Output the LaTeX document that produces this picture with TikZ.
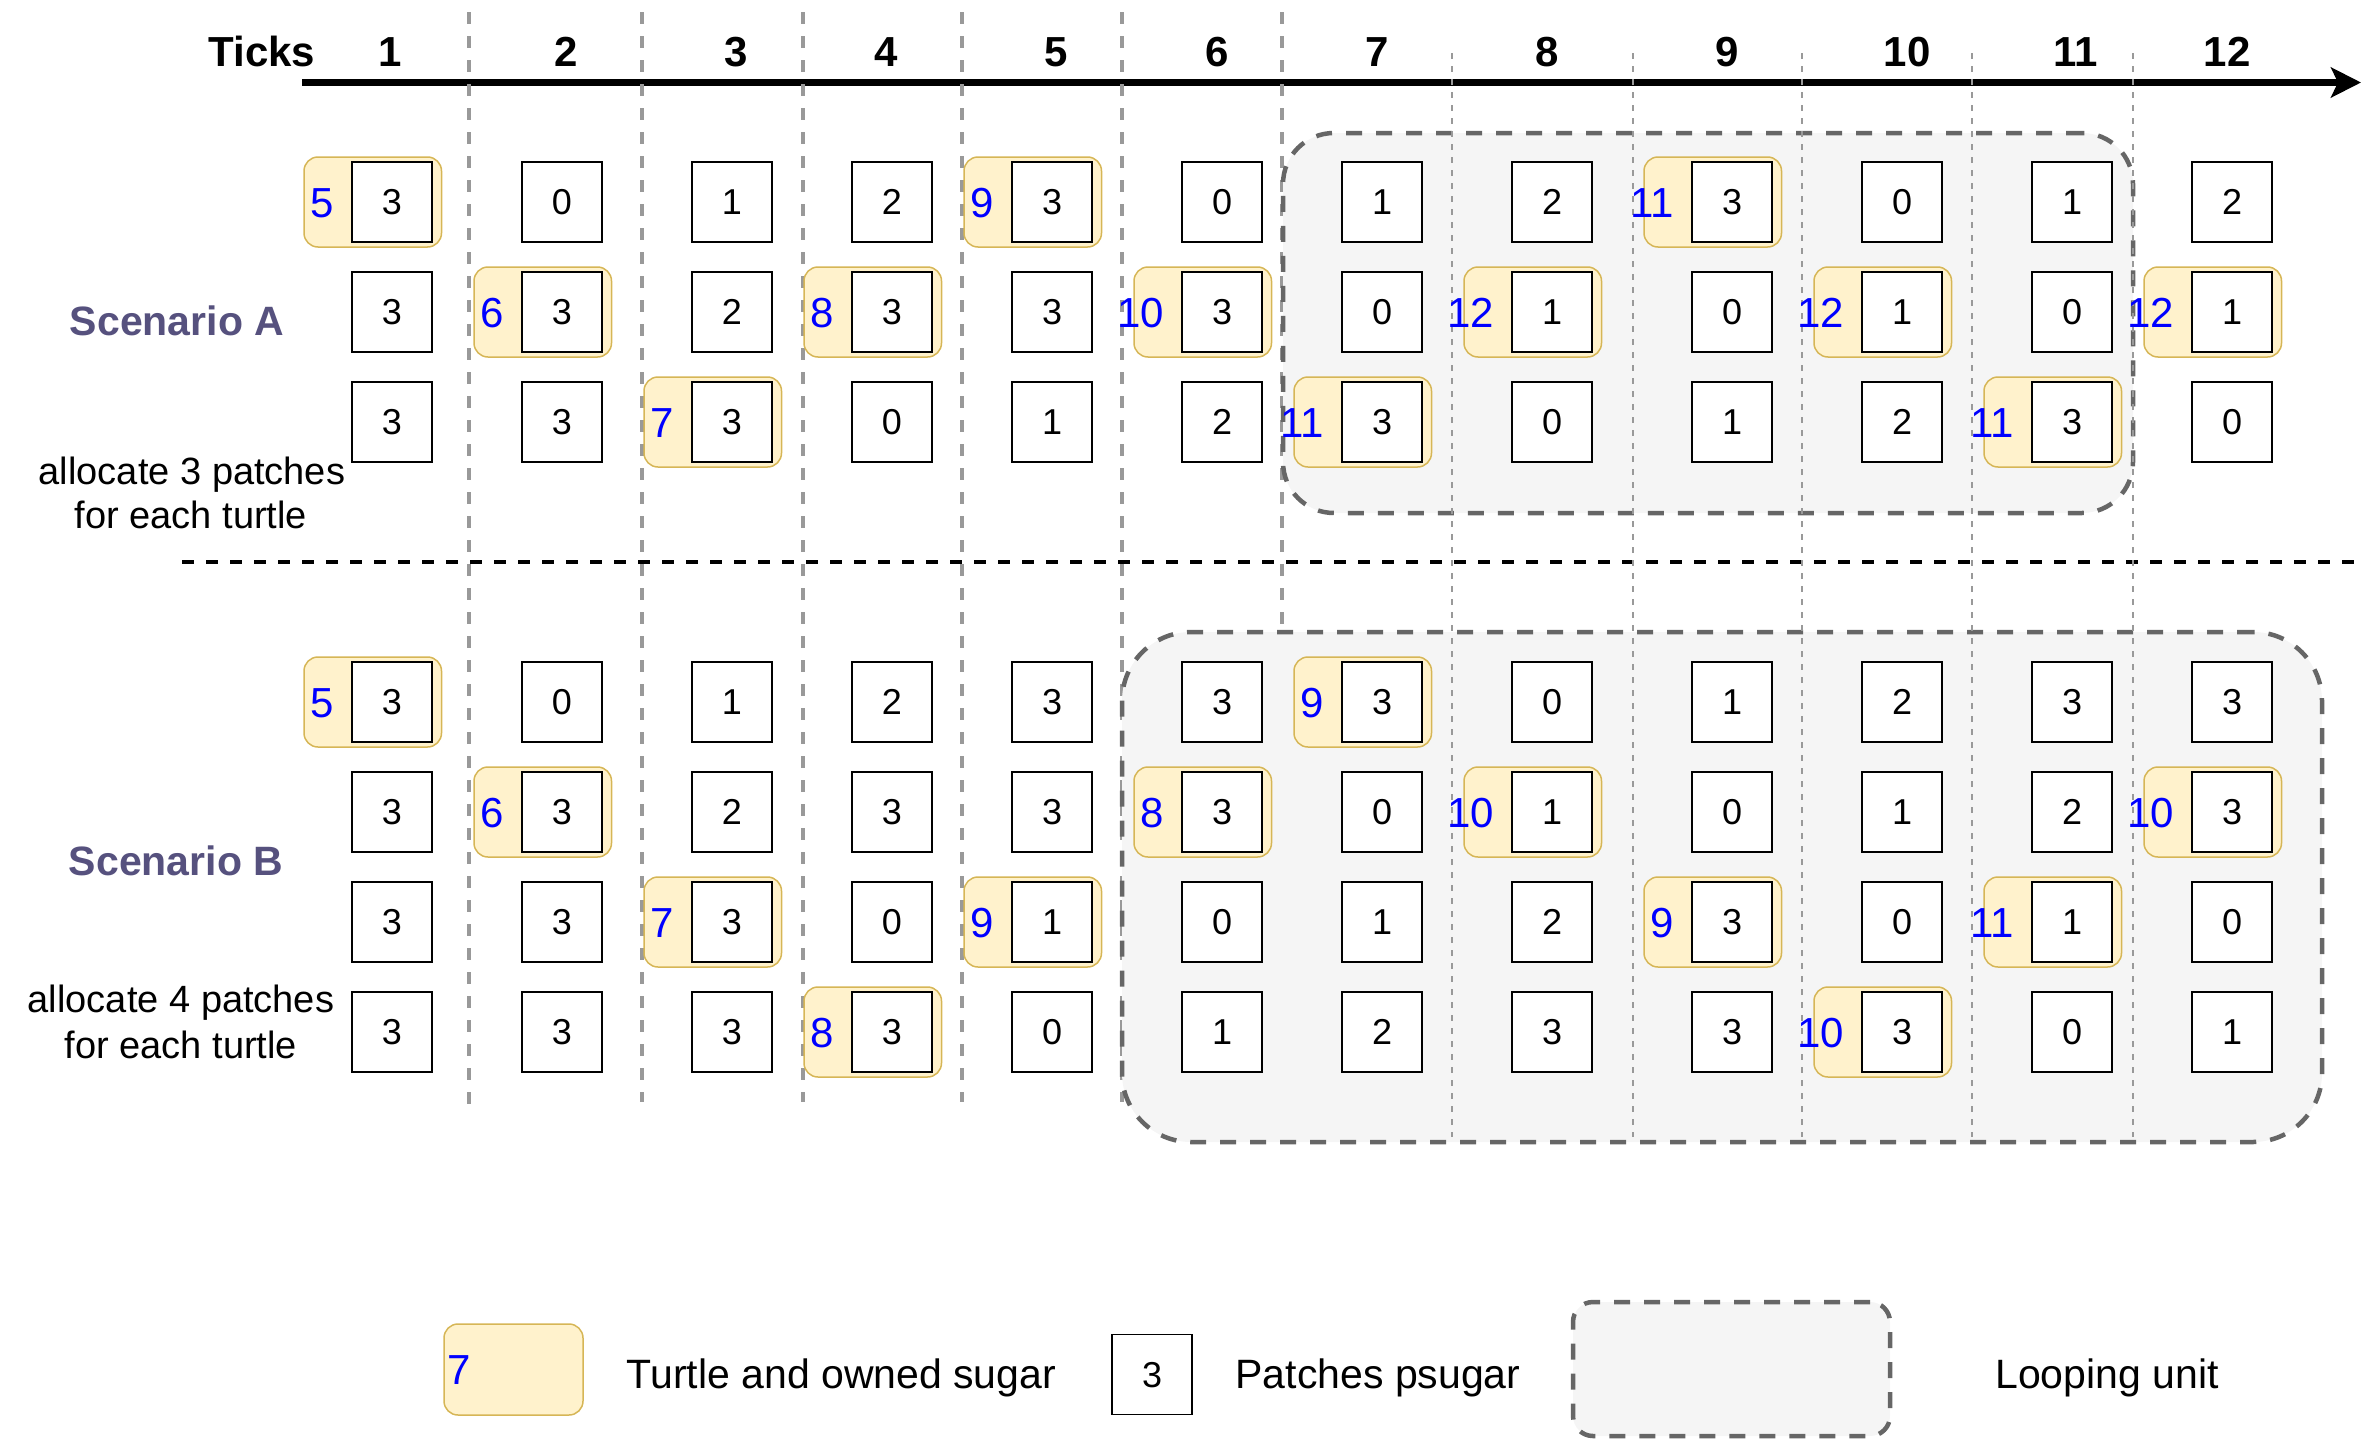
\documentclass[tikz,border=0pt]{standalone}
\usepackage{fontspec}
\setmainfont{Liberation Sans}
\usetikzlibrary{arrows.meta}
\definecolor{tfill}{HTML}{FFF2CC}
\definecolor{tdraw}{HTML}{D6B656}
\definecolor{lfill}{HTML}{F5F5F5}
\definecolor{ldraw}{HTML}{666666}
\definecolor{scen}{HTML}{56517E}
\definecolor{vline}{HTML}{999999}
\definecolor{tblue}{HTML}{0000FF}
\tikzset{
 patch/.style={draw=black, line width=1.5pt, fill=white, minimum width=80pt, minimum height=80pt, inner sep=0pt, font=\fontsize{36}{43}\selectfont, text height=25.8pt, text depth=0pt},
 turtlebox/.style={draw=tdraw, fill=tfill, line width=1.5pt, rounded corners=14pt, minimum width=137.5pt, minimum height=90pt, inner sep=0pt},
 tnum/.style={anchor=east, inner sep=0pt, text=tblue, font=\fontsize{42}{50}\selectfont, text height=30pt, text depth=0pt},
 loopbox/.style={draw=ldraw, fill=lfill, line width=4.5pt, dash pattern=on 16pt off 14pt, inner sep=0pt},
 ticklbl/.style={anchor=base, inner sep=0pt, font=\bfseries\fontsize{42}{50}\selectfont},
 scenlbl/.style={inner sep=0pt, text=scen, font=\bfseries\fontsize{41}{49}\selectfont, text height=29.4pt, text depth=0pt},
 alloc/.style={anchor=base, inner sep=0pt, font=\fontsize{38}{45}\selectfont},
 legtxt/.style={anchor=base, inner sep=0pt, font=\fontsize{41}{49}\selectfont},
 thickv/.style={draw=vline, line width=3.5pt, dash pattern=on 12pt off 12pt},
 thinv/.style={draw=vline, line width=1.5pt, dash pattern=on 6pt off 7pt},
 sepline/.style={draw=black, line width=4.5pt, dash pattern=on 12pt off 12pt},
 axisline/.style={draw=black, line width=7pt, -{Stealth[length=30pt,width=30pt,inset=7pt]}},
}
\def\colxs{{392,562,732,892,1052,1222,1382,1552,1732,1902,2072,2232}}
\newcommand\cellrow[4]{%
 \foreach \val/\tur [count=\ci] in {#4}{%
  \pgfmathsetmacro\xx{\colxs[\ci-1]}%
  \ifnum\tur>0 \node[turtlebox] (#1#2-\ci-t) at (\xx-19.25,#3) {};\fi
  \node[patch] (#1#2-\ci) at (\xx,#3) {\val};
  \ifnum\tur>0 \node[tnum] (#1#2-\ci-n) at ([xshift=-17pt]#1#2-\ci.west) {\tur};\fi
 }}
\begin{document}
\begin{tikzpicture}[x=1pt,y=-1pt]
\useasboundingbox (0,0) rectangle (2377,1440);
% time axis
\coordinate (axL) at (302,82.5);
\coordinate (axR) at (2361,82.5);
\draw[axisline] (axL) -- (axR);
% thick dashed tick separators
\foreach \x/\yb in {469/1112,642/1102,803/1102,962/1102,1122/1102,1282/1102}
  \draw[thickv] (\x,12) -- (\x,\yb);
% scenario separator
\coordinate (sepL) at (182,562);
\coordinate (sepR) at (2357,562);
\draw[sepline] (sepL) -- (sepR);
% looping units
\node[loopbox, rounded corners=51pt, minimum width=850pt, minimum height=380pt] (loopA) at (1708,323) {};
\node[loopbox, rounded corners=69pt, minimum width=1200pt, minimum height=510pt] (loopB) at (1722,887) {};
% thin dashed tick separators
\foreach \x in {1452,1633,1802,1972,2133}
  \draw[thinv] (\x,53) -- (\x,1137);
% tick labels
\node[ticklbl] (ticks) at (262,66) {Ticks};
\foreach \x [count=\i] in {390,566,736,886,1056,1217,1377,1547,1727,1907,2076,2227}
  \node[ticklbl] (tick\i) at (\x,66) {\i};
% scenario labels
\node[scenlbl] (scenA) at (177,321) {Scenario A};
\node[alloc] (allocA1) at (192,484) {allocate 3 patches};
\node[alloc] (allocA2) at (191,528) {for each turtle};
\node[scenlbl] (scenB) at (176,861) {Scenario B};
\node[alloc] (allocB1) at (181,1012) {allocate 4 patches};
\node[alloc] (allocB2) at (181,1058) {for each turtle};
% scenario A
\cellrow{A}{1}{202}{3/5,0/0,1/0,2/0,3/9,0/0,1/0,2/0,3/11,0/0,1/0,2/0}
\cellrow{A}{2}{312}{3/0,3/6,2/0,3/8,3/0,3/10,0/0,1/12,0/0,1/12,0/0,1/12}
\cellrow{A}{3}{422}{3/0,3/0,3/7,0/0,1/0,2/0,3/11,0/0,1/0,2/0,3/11,0/0}
% scenario B
\cellrow{B}{1}{702}{3/5,0/0,1/0,2/0,3/0,3/0,3/9,0/0,1/0,2/0,3/0,3/0}
\cellrow{B}{2}{812}{3/0,3/6,2/0,3/0,3/0,3/8,0/0,1/10,0/0,1/0,2/0,3/10}
\cellrow{B}{3}{922}{3/0,3/0,3/7,0/0,1/9,0/0,1/0,2/0,3/9,0/0,1/11,0/0}
\cellrow{B}{4}{1032}{3/0,3/0,3/0,3/8,0/0,1/0,2/0,3/0,3/0,3/10,0/0,1/0}
% legend
\node[turtlebox, minimum width=139pt, minimum height=91pt] (legT) at (513.5,1369.5) {};
\node[tnum, anchor=west] (legTn) at ([xshift=4pt]legT.west) {7};
\node[legtxt] (legTtxt) at (841.5,1388) {Turtle and owned sugar};
\node[patch] (legP) at (1152,1374.5) {3};
\node[legtxt] (legPtxt) at (1378,1388) {Patches psugar};
\node[loopbox, rounded corners=20pt, minimum width=317pt, minimum height=134pt] (legL) at (1731.5,1369) {};
\node[legtxt] (legLtxt) at (2107,1388) {Looping unit};
\end{tikzpicture}
\end{document}
